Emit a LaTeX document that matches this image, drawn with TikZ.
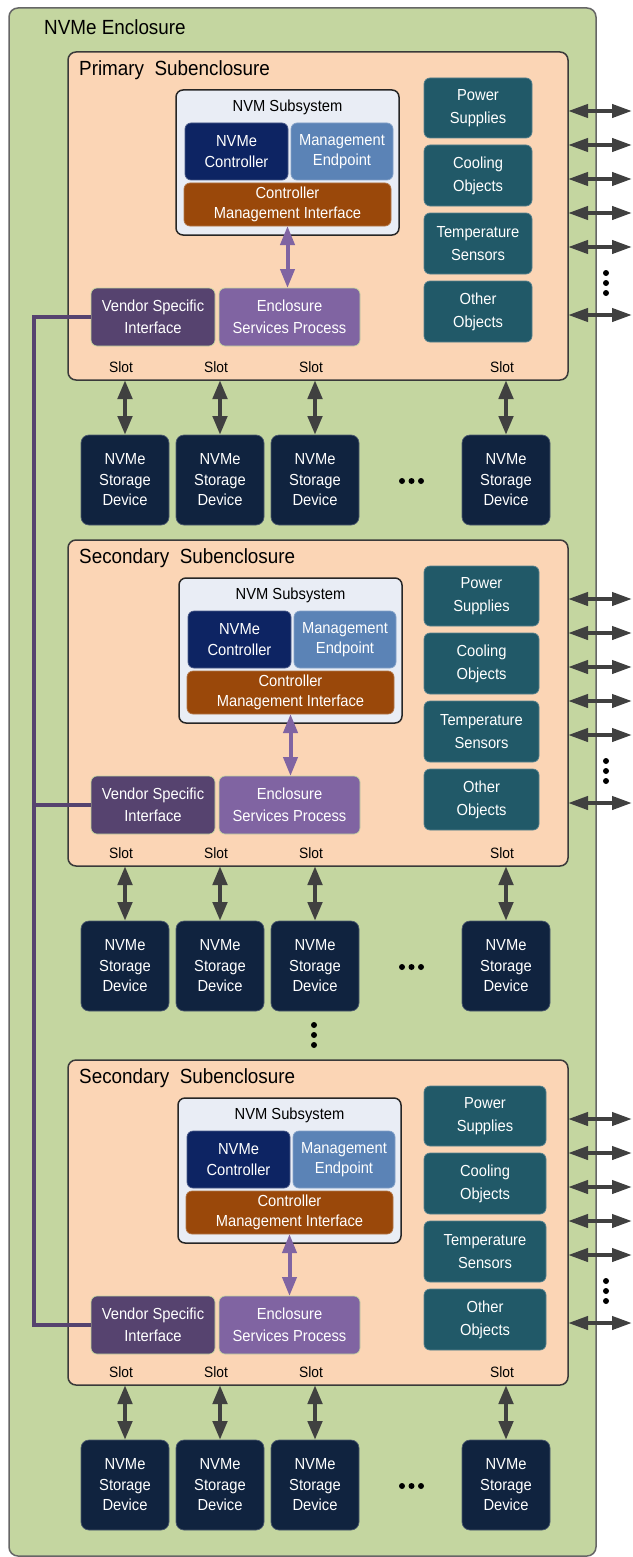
\documentclass[tikz,border=0pt]{standalone}
\usepackage{fontspec}
\setmainfont{Liberation Sans}[FakeStretch=0.92]
\usetikzlibrary{arrows.meta}
\definecolor{encgreen}{HTML}{C4D6A0}
\definecolor{peach}{HTML}{FBD5B5}
\definecolor{nvmbg}{HTML}{E9EDF5}
\definecolor{ctlblue}{HTML}{0D2463}
\definecolor{meblue}{HTML}{5B83B6}
\definecolor{cmibrown}{HTML}{9A480A}
\definecolor{vendpurple}{HTML}{56436F}
\definecolor{esppurple}{HTML}{8064A2}
\definecolor{tealcol}{HTML}{215968}
\definecolor{devnavy}{HTML}{10233F}
\definecolor{arrowgray}{HTML}{404040}
\definecolor{bordergray}{HTML}{3A3A3A}

\newcommand\rbox[7]{\node[#1, minimum width={((#5)-(#3))*1pt}, minimum height={((#6)-(#4))*1pt}] (#2) at ({((#3)+(#5))/2},{((#4)+(#6))/2}) {#7};}

\newcommand\Sec[6]{%
\begin{scope}[yshift=-#2pt]
\pgfmathsetmacro\B{52+#6}
\node[subbox, minimum width=500pt, minimum height=#6pt, anchor=north west] (#1sub) at (68,52) {};
\node[titletext, anchor=west] (#1title) at (79,70) {#3};
\rbox{nvmbox}{#1nvm}{176+#4}{90}{399+#4}{235}{}
\node[ibox, text=black] (#1nvmt) at ({287.5+#4},107) {NVM Subsystem};
\rbox{ibox, fill=ctlblue, draw=ctlblue!75!white}{#1ctl}{185+#4}{123}{288+#4}{180}{NVMe\\Controller}
\rbox{ibox, fill=meblue, draw=meblue!75!white}{#1me}{291+#4}{123}{393+#4}{180}{Management\\Endpoint}
\rbox{ibox, fill=cmibrown, draw=cmibrown!75!white}{#1cmi}{184+#4}{183}{391+#4}{226}{Controller\\Management Interface}
\rbox{ibox, wide, fill=vendpurple, draw=encgreen}{#1vend}{91}{288}{215}{346}{Vendor Specific\\Interface}
\rbox{ibox, wide, fill=esppurple, draw=encgreen}{#1esp}{219}{288}{360}{346}{Enclosure\\Services Process}
\draw[parrow] (#1cmi.south) -- (#1cmi.south |- #1esp.north);
\rbox{ibox, wider, fill=tealcol, draw=tealcol!75!white}{#1ps}{424}{78}{#5}{138}{Power\\Supplies}
\rbox{ibox, wider, fill=tealcol, draw=tealcol!75!white}{#1co}{424}{145}{#5}{206}{Cooling\\Objects}
\rbox{ibox, wider, fill=tealcol, draw=tealcol!75!white}{#1ts}{424}{213}{#5}{274}{Temperature\\Sensors}
\rbox{ibox, wider, fill=tealcol, draw=tealcol!75!white}{#1oo}{424}{281}{#5}{342}{Other\\Objects}
\foreach \k/\yy in {0/111,1/145,2/179,3/213,4/247,5/315} {
  \coordinate (#1ra\k) at (632,\yy);
  \draw[rarrow] (#1ra\k -| #1sub.east) -- (#1ra\k);
}
\foreach \yy in {273,283,293} {\fill (606,\yy) circle (3pt);}
\foreach \i/\xa/\xb in {1/81/169,2/176/264,3/271/359,4/462/550} {
  \rbox{ibox, fill=devnavy, draw=devnavy!75!white, rounded corners=8pt}{#1dev\i}{\xa}{\B+55}{\xb}{\B+145}{NVMe\\Storage\\Device}
  \node[slottext] (#1slot\i) at ({(\xa+\xb)/2-4},\B-13) {Slot};
  \draw[sarrow] (#1dev\i.north |- #1sub.south) -- (#1dev\i.north);
}
\foreach \xx in {402,411.5,421} {\fill (\xx,\B+101) circle (3pt);}
\end{scope}}

\begin{document}
\begin{tikzpicture}[x=1pt,y=-1pt,
  ibox/.style={inner sep=0pt, outer sep=0pt, rounded corners=6pt, text=white, align=center, line width=0.7pt, font=\fontsize{16}{20.5}\selectfont},
  wide/.style={font=\fontsize{16}{22}\selectfont},
  wider/.style={font=\fontsize{16}{23}\selectfont},
  nvmbox/.style={inner sep=0pt, outer sep=0pt, rounded corners=7pt, fill=nvmbg, draw=black!85, line width=1.5pt},
  subbox/.style={inner sep=0pt, outer sep=0pt, rounded corners=8pt, fill=peach, draw=bordergray, line width=1.5pt},
  encbox/.style={inner sep=0pt, outer sep=0pt, rounded corners=9pt, fill=encgreen, draw=black!60, line width=1.5pt},
  titletext/.style={inner sep=0pt, font=\fontsize{20.5}{24}\selectfont},
  slottext/.style={inner sep=0pt, font=\fontsize{15}{18}\selectfont},
  sarrow/.style={draw=arrowgray, line width=4.5pt, {Triangle[length=19pt,width=14pt]}-{Triangle[length=19pt,width=14pt]}},
  rarrow/.style={draw=arrowgray, line width=4pt, {Triangle[length=20pt,width=13pt]}-{Triangle[length=20pt,width=13pt]}},
  parrow/.style={draw=esppurple, line width=4pt, {Triangle[length=19pt,width=14pt]}-{Triangle[length=19pt,width=14pt]}},
  vline/.style={draw=vendpurple, line width=4.5pt}
]
\useasboundingbox (0,0) rectangle (632,1557);
\node[encbox, anchor=north west, minimum width=587pt, minimum height=1548pt] (enc) at (9,8) {};
\node[titletext, anchor=west] (enctitle) at (44,27) {NVMe Enclosure};

\Sec{p1}{0}{Primary\ \ Subenclosure}{0}{532}{328}
\Sec{p2}{488}{Secondary\ \ Subenclosure}{3}{539}{326}
\Sec{p3}{1008}{Secondary\ \ Subenclosure}{2}{546}{325}

\foreach \yy in {1025,1035,1045} {\fill (314,\yy) circle (3pt);}

\coordinate (vtop) at (34,0);
\draw[vline] (p1vend.west) -- (vtop |- p1vend.west) -- (vtop |- p3vend.west) -- (p3vend.west);
\draw[vline] (vtop |- p2vend.west) -- (p2vend.west);
\end{tikzpicture}
\end{document}
